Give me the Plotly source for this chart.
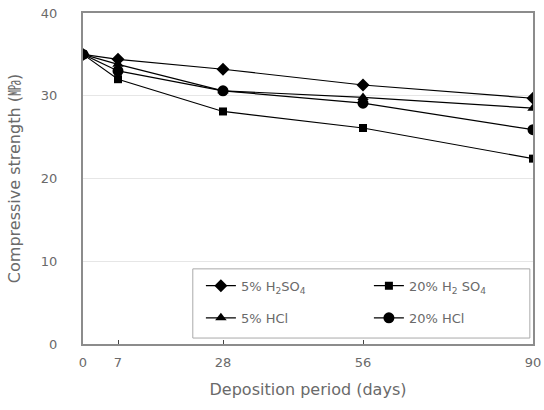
import plotly.graph_objects as go

days = [0, 7, 28, 56, 90]
series_names = ["5% H<sub>2</sub>SO<sub>4</sub>", "20% H<sub>2</sub> SO<sub>4</sub>", "5% HCl", "20% HCl"]
h2so4_5 = [35.0, 34.4, 33.2, 31.3, 29.7]
h2so4_20 = [35.0, 32.0, 28.1, 26.1, 22.4]
hcl_5 = [35.0, 33.8, 30.6, 29.8, 28.5]
hcl_20 = [35.0, 33.0, 30.6, 29.1, 25.9]
x_ticks = [0, 7, 28, 56, 90]
y_ticks = [0, 10, 20, 30, 40]

values = [h2so4_5, h2so4_20, hcl_5, hcl_20]
symbols = ["diamond", "square", "triangle-up", "circle"]
sizes = [10, 8, 10, 11]
legend_ids = ["legend", "legend", "legend2", "legend2"]

FONT = "DejaVu Sans, Liberation Sans, Noto Sans CJK KR, sans-serif"
TXT = "#6a6a6a"

fig = go.Figure()
for name, v, s, sz, lg in zip(series_names, values, symbols, sizes, legend_ids):
    fig.add_trace(go.Scatter(
        x=days, y=v, name=name, mode="lines+markers", legend=lg,
        line=dict(color="black", width=1.2),
        marker=dict(symbol=s, size=sz, color="black"),
    ))

leg_common = dict(
    orientation="h", xanchor="left", yanchor="middle",
    entrywidth=123, entrywidthmode="pixels",
    borderwidth=0, bgcolor="rgba(0,0,0,0)",
    font=dict(size=13, color=TXT),
)

fig.update_layout(
    width=544, height=410,
    margin=dict(l=83, r=11, t=13, b=66, autoexpand=False),
    paper_bgcolor="white", plot_bgcolor="white",
    font=dict(family=FONT, size=13, color=TXT),
    showlegend=True,
    legend=dict(x=0.262, y=0.176, **leg_common),
    legend2=dict(x=0.262, y=0.079, **leg_common),
    shapes=[dict(type="rect", xref="paper", yref="paper",
                 x0=0.244, x1=0.993, y0=0.018, y1=0.227,
                 line=dict(color="#aaaaaa", width=1), layer="above")],
)
fig.update_xaxes(
    range=[0, 90], tickvals=x_ticks, ticktext=[str(t) for t in x_ticks],
    showline=True, linecolor="#8c8c8c", linewidth=2, mirror=True,
    ticks="inside", ticklen=4, tickcolor="#444444", showgrid=False, zeroline=False,
    title=dict(text="Deposition period (days)", standoff=15),
    ticklabelstandoff=5, automargin=False,
)
fig.update_yaxes(
    range=[0, 40], tickvals=y_ticks,
    showline=True, linecolor="#8c8c8c", linewidth=2, mirror=True,
    ticks="", showgrid=True, gridcolor="#e6e6e6", gridwidth=1, zeroline=False,
    title=dict(text="Compressive strength (㎫)", standoff=16),
    ticklabelstandoff=21, automargin=False,
)

fig.write_html("out.html", config={"displayModeBar": False})

with open("out.html", "r", encoding="utf-8") as f:
    html = f.read()
html = html.replace("<head>", "<head><style>html,body{margin:0;padding:0;}</style>", 1)
with open("out.html", "w", encoding="utf-8") as f:
    f.write(html)
